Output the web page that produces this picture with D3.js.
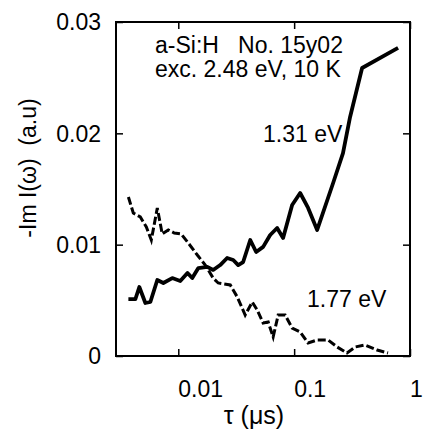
<!DOCTYPE html>
<html lang="en">
<head>
<meta charset="utf-8">
<title>-Im I(w) vs tau</title>
<script src="https://cdn.jsdelivr.net/npm/d3@7"></script>
<style>
    body { margin: 0; background: #fff; }
    svg text { font-family: "Liberation Sans", Arial, Helvetica, sans-serif; fill: #000; }
</style>
</head>
<body>
<div id="graph"></div>
<script>
    // values
    var tau131 = [0.00371, 0.00426, 0.00461, 0.0052, 0.00574, 0.00659, 0.00743, 0.00887, 0.0104, 0.012,
        0.0132, 0.0149, 0.0178, 0.02, 0.023, 0.0264, 0.0298, 0.0329, 0.0363, 0.0418,
        0.047, 0.054, 0.0621, 0.0713, 0.0803, 0.0961, 0.1127, 0.132, 0.158, 0.217,
        0.264, 0.304, 0.386, 0.789];
    var im131 = [0.0051, 0.0051, 0.0062, 0.00476, 0.00485, 0.00683, 0.00656, 0.0070, 0.00674, 0.00746,
        0.0070, 0.0079, 0.0080, 0.00773, 0.00817, 0.0088, 0.00862, 0.00817, 0.00844, 0.01042,
        0.00934, 0.0098, 0.01087, 0.0115, 0.0106, 0.01356, 0.01464, 0.0133, 0.01132, 0.01554,
        0.01823, 0.02147, 0.02587, 0.02767];

    var tau177 = [0.00371, 0.00409, 0.0047, 0.0053, 0.00585, 0.00659, 0.00727, 0.0082, 0.00924, 0.0106,
        0.0122, 0.0146, 0.0171, 0.02, 0.0221, 0.0281, 0.0323, 0.0378, 0.0435, 0.048,
        0.054, 0.0597, 0.0659, 0.0728, 0.0836, 0.0961, 0.1127, 0.132, 0.158, 0.196,
        0.235, 0.286, 0.336, 0.409, 0.52, 0.646];
    var im177 = [0.01428, 0.01284, 0.01249, 0.01159, 0.01042, 0.01329, 0.01096, 0.01132, 0.01105, 0.01096,
        0.01015, 0.00907, 0.00817, 0.0070, 0.00656, 0.00638, 0.0053, 0.00368, 0.00485, 0.00413,
        0.00296, 0.00305, 0.00171, 0.00368, 0.00368, 0.00251, 0.00216, 0.00117, 0.00144, 0.00144,
        0.00081, 0.00027, 0.00081, 0.00099, 0.00054, 0.00027];

    var xTicks = [0.01, 0.1, 1];
    var xTickLabels = ["0.01", "0.1", "1"];
    var yTicks = [0, 0.01, 0.02, 0.03];
    var yTickLabels = ["0", "0.01", "0.02", "0.03"];

    var w = 423;
    var h = 430;
    // plot frame (don't call it "top", that's window.top)
    var frameL = 116, frameR = 410, frameT = 22, frameB = 356;
    var fontSize = 23;

    var xScale = d3.scaleLog()
        .domain([0.0029, 1])
        .range([frameL, frameR]);

    var yScale = d3.scaleLinear()
        .domain([0, 0.03])
        .range([frameB, frameT]);

    var svg = d3.select("#graph")
        .append("svg")
        .attr("width", w)
        .attr("height", h);

    // inward ticks on all four sides
    svg.append("g")
        .attr("transform", "translate(0," + frameB + ")")
        .call(d3.axisBottom(xScale).tickValues(xTicks).tickSize(-7).tickFormat(""));
    svg.append("g")
        .attr("transform", "translate(0," + frameT + ")")
        .call(d3.axisTop(xScale).tickValues(xTicks).tickSize(-7).tickFormat(""));
    svg.append("g")
        .attr("transform", "translate(" + frameL + ",0)")
        .call(d3.axisLeft(yScale).tickValues(yTicks).tickSize(-7).tickFormat(""));
    svg.append("g")
        .attr("transform", "translate(" + frameR + ",0)")
        .call(d3.axisRight(yScale).tickValues(yTicks).tickSize(-7).tickFormat(""));

    svg.selectAll(".domain").remove();
    svg.selectAll(".tick text").remove();
    svg.selectAll(".tick line").attr("stroke", "#000").attr("stroke-width", 1.5);

    svg.append("rect")
        .attr("x", frameL)
        .attr("y", frameT)
        .attr("width", frameR - frameL)
        .attr("height", frameB - frameT)
        .attr("fill", "none")
        .attr("stroke", "#000")
        .attr("stroke-width", 2);

    // tick labels, left-aligned on the tick like the original
    svg.selectAll(".xlab")
        .data(xTicks)
        .enter()
        .append("text")
        .attr("class", "xlab")
        .attr("x", function (d) { return xScale(d); })
        .attr("y", 397)
        .attr("text-anchor", "start")
        .style("font-size", fontSize + "px")
        .text(function (d, i) { return xTickLabels[i]; });

    svg.selectAll(".ylab")
        .data(yTicks)
        .enter()
        .append("text")
        .attr("class", "ylab")
        .attr("x", 101)
        .attr("y", function (d) { return yScale(d); })
        .attr("dy", "0.36em")
        .attr("text-anchor", "end")
        .style("font-size", fontSize + "px")
        .text(function (d, i) { return yTickLabels[i]; });

    // curves
    var line = d3.line()
        .x(function (d) { return xScale(d[0]); })
        .y(function (d) { return yScale(d[1]); });

    svg.append("path")
        .datum(d3.zip(tau131, im131))
        .attr("d", line)
        .attr("fill", "none")
        .attr("stroke", "#000")
        .attr("stroke-width", 3.8)
        .attr("stroke-linejoin", "round");

    svg.append("path")
        .datum(d3.zip(tau177, im177))
        .attr("d", line)
        .attr("fill", "none")
        .attr("stroke", "#000")
        .attr("stroke-width", 3)
        .attr("stroke-dasharray", "8,3");

    // annotations
    svg.append("text")
        .attr("x", 155).attr("y", 53)
        .style("font-size", fontSize + "px")
        .attr("xml:space", "preserve")
        .text("a-Si:H   No. 15y02");
    svg.append("text")
        .attr("x", 155).attr("y", 77)
        .style("font-size", fontSize + "px")
        .text("exc. 2.48 eV, 10 K");
    svg.append("text")
        .attr("x", 263).attr("y", 142)
        .style("font-size", fontSize + "px")
        .text("1.31 eV");
    svg.append("text")
        .attr("x", 307).attr("y", 307)
        .style("font-size", fontSize + "px")
        .text("1.77 eV");

    // axis titles
    svg.append("text")
        .attr("text-anchor", "middle")
        .attr("transform", "translate(36,168)rotate(-90)")
        .style("font-size", fontSize + "px")
        .attr("xml:space", "preserve")
        .text("-Im I(\u03c9)  (a.u)");

    svg.append("text")
        .attr("text-anchor", "middle")
        .attr("x", 254)
        .attr("y", 424)
        .style("font-size", "25px")
        .attr("xml:space", "preserve")
        .text("\u03c4 (\u03bcs)");
</script>
</body>
</html>
